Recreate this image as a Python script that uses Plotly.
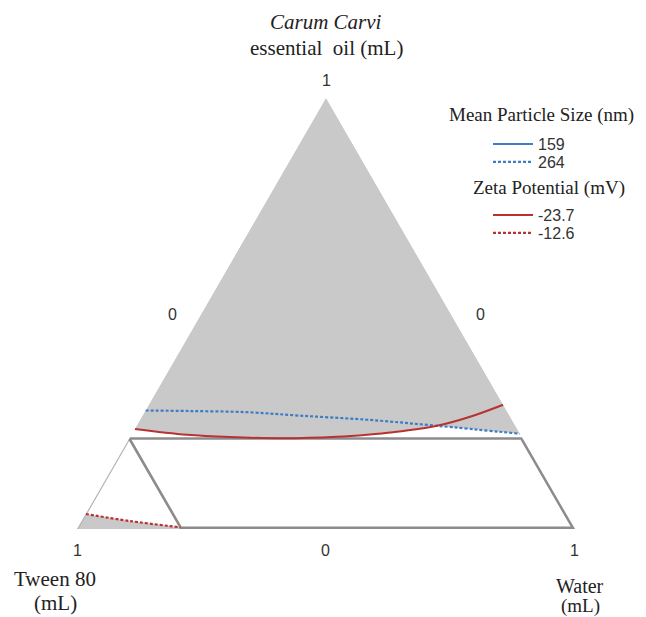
import plotly.graph_objects as go

# ---- data (mixture fractions: oil = top, tween = bottom-left, water = bottom-right) ----
# Mean particle size 264 nm contour (dashed blue)
size264_oil = [0.275, 0.2737, 0.271, 0.263, 0.2535, 0.2395, 0.221]
size264_tween = [0.725, 0.6363, 0.523, 0.421, 0.2905, 0.1575, 0.000]
size264_water = [0.000, 0.090, 0.206, 0.316, 0.456, 0.603, 0.779]

# Zeta potential -23.7 mV contour (solid red)
zeta237_oil = [0.232, 0.2186, 0.2133, 0.2105, 0.2140, 0.2186, 0.2244, 0.2395, 0.2605, 0.2884]
zeta237_tween = [0.768, 0.6698, 0.5861, 0.4770, 0.3709, 0.3084, 0.2533, 0.1575, 0.0805, 0.000]
zeta237_water = [0.000, 0.1116, 0.2006, 0.3125, 0.4151, 0.4730, 0.5223, 0.603, 0.6590, 0.7116]

# Zeta potential -12.6 mV contour (dashed red)
zeta126_oil = [0.035, 0.0186, 0.004]
zeta126_tween = [0.965, 0.8843, 0.790]
zeta126_water = [0.000, 0.0971, 0.206]

# Design constraints (oil <= 0.21 region, tween <= 0.79)
oil_limit = 0.21
tween_limit = 0.79

legend_labels = ["159", "264", "-23.7", "-12.6"]

BLUE = "#3e7cc5"
RED = "#b83232"
GRAY = "#c9c9c9"
EDGE = "#8c8c8c"
SERIF = "Liberation Serif"
SANS = "Liberation Sans"

fig = go.Figure()

# Gray feasible region (upper part): apex, down left edge, along red, then blue
k = zeta237_oil.index(0.2395)
g_oil = [1.0] + zeta237_oil[:k + 1] + [size264_oil[-1], 1.0]
g_tween = [0.0] + zeta237_tween[:k + 1] + [size264_tween[-1], 0.0]
g_water = [0.0] + zeta237_water[:k + 1] + [size264_water[-1], 0.0]
fig.add_trace(go.Scatterternary(a=g_oil, b=g_tween, c=g_water, mode="lines",
                                fill="toself", fillcolor=GRAY, line=dict(width=0, color=GRAY),
                                showlegend=False, hoverinfo="skip"))

# Gray region at the Tween corner (below -12.6 contour)
s_oil = [0.0] + zeta126_oil + [0.0, 0.0]
s_tween = [1.0] + zeta126_tween + [tween_limit, 1.0]
s_water = [0.0] + zeta126_water + [1 - tween_limit, 0.0]
fig.add_trace(go.Scatterternary(a=s_oil, b=s_tween, c=s_water, mode="lines",
                                fill="toself", fillcolor=GRAY, line=dict(width=0, color=GRAY),
                                showlegend=False, hoverinfo="skip"))

# Thin outline of small corner triangle (left edge)
fig.add_trace(go.Scatterternary(a=[0.0, oil_limit], b=[1.0, 1 - oil_limit], c=[0.0, 0.0],
                                mode="lines", line=dict(width=2.4, color="#b4b4b4"),
                                showlegend=False, hoverinfo="skip"))

# Constraint outline: interior edges
fig.add_trace(go.Scatterternary(a=[oil_limit, oil_limit, 0.0],
                                b=[0.0, tween_limit, tween_limit],
                                c=[1 - oil_limit, 1 - oil_limit - tween_limit, 1 - tween_limit],
                                mode="lines", line=dict(width=2.6, color=EDGE),
                                showlegend=False, hoverinfo="skip"))
# Constraint outline: edges on triangle boundary (half clipped)
fig.add_trace(go.Scatterternary(a=[0.0, 0.0, oil_limit],
                                b=[tween_limit, 0.0, 0.0],
                                c=[1 - tween_limit, 1.0, 1 - oil_limit],
                                mode="lines", line=dict(width=5, color=EDGE),
                                showlegend=False, hoverinfo="skip"))

# Contours
fig.add_trace(go.Scatterternary(a=[None], b=[None], c=[None], mode="lines", name=legend_labels[0],
                                line=dict(color=BLUE, width=2), legend="legend"))
fig.add_trace(go.Scatterternary(a=size264_oil, b=size264_tween, c=size264_water, mode="lines",
                                name=legend_labels[1], legend="legend2",
                                line=dict(color=BLUE, width=2.2, dash="3px,2px", shape="spline")))
fig.add_trace(go.Scatterternary(a=zeta237_oil, b=zeta237_tween, c=zeta237_water, mode="lines",
                                name=legend_labels[2], legend="legend3",
                                line=dict(color=RED, width=2, shape="spline")))
fig.add_trace(go.Scatterternary(a=zeta126_oil, b=zeta126_tween, c=zeta126_water, mode="lines",
                                name=legend_labels[3], legend="legend4",
                                line=dict(color=RED, width=2.2, dash="3px,2px", shape="spline")))

W, H = 646, 617


def px(x):
    return x / W


def py(y):
    return 1 - y / H


axis_common = dict(showline=False, showgrid=False, showticklabels=False, ticks="",
                   title=dict(text=" "), min=0)

annotations = []


def ann(text, x, y, font, size, color="#222"):
    annotations.append(dict(text=text, x=px(x), y=py(y), xref="paper", yref="paper",
                            showarrow=False, xanchor="center", yanchor="middle",
                            font=dict(family=font, size=size, color=color)))


ann("<i>Carum Carvi</i>", 326, 22, SERIF, 21)
ann("essential  oil (mL)", 326, 48, SERIF, 21)
ann("1", 326, 80, SANS, 16, "#333")
ann("0", 172, 314, SANS, 16, "#333")
ann("0", 480, 314, SANS, 16, "#333")
ann("1", 77, 550, SANS, 16, "#333")
ann("0", 325, 550, SANS, 16, "#333")
ann("1", 574, 550, SANS, 16, "#333")
ann("Tween 80", 55, 579, SERIF, 21)
ann("(mL)", 55, 603, SERIF, 21)
ann("Water", 580, 586, SERIF, 20)
ann("(mL)", 580, 606, SERIF, 19)
ann("Mean Particle Size (nm)", 541, 115, SERIF, 19)
ann("Zeta Potential (mV)", 549, 188, SERIF, 19)


def leg(yc):
    return dict(x=px(488), y=py(yc), xanchor="left", yanchor="middle",
                bgcolor="rgba(0,0,0,0)", itemwidth=40,
                font=dict(family=SANS, size=16, color="#333"))


fig.update_layout(
    width=W, height=H,
    margin=dict(l=0, r=0, t=0, b=0),
    paper_bgcolor="white",
    ternary=dict(sum=1, bgcolor="white",
                 domain=dict(x=[0.1192, 0.8901], y=[0.142, 0.842]),
                 aaxis=axis_common, baxis=axis_common, caxis=axis_common),
    annotations=annotations,
    showlegend=True,
    legend=leg(144), legend2=leg(162), legend3=leg(215), legend4=leg(233),
)

fig.write_html("out.html", config={"displayModeBar": False},
               post_script="document.body.style.margin='0px';document.body.style.overflow='hidden';")
